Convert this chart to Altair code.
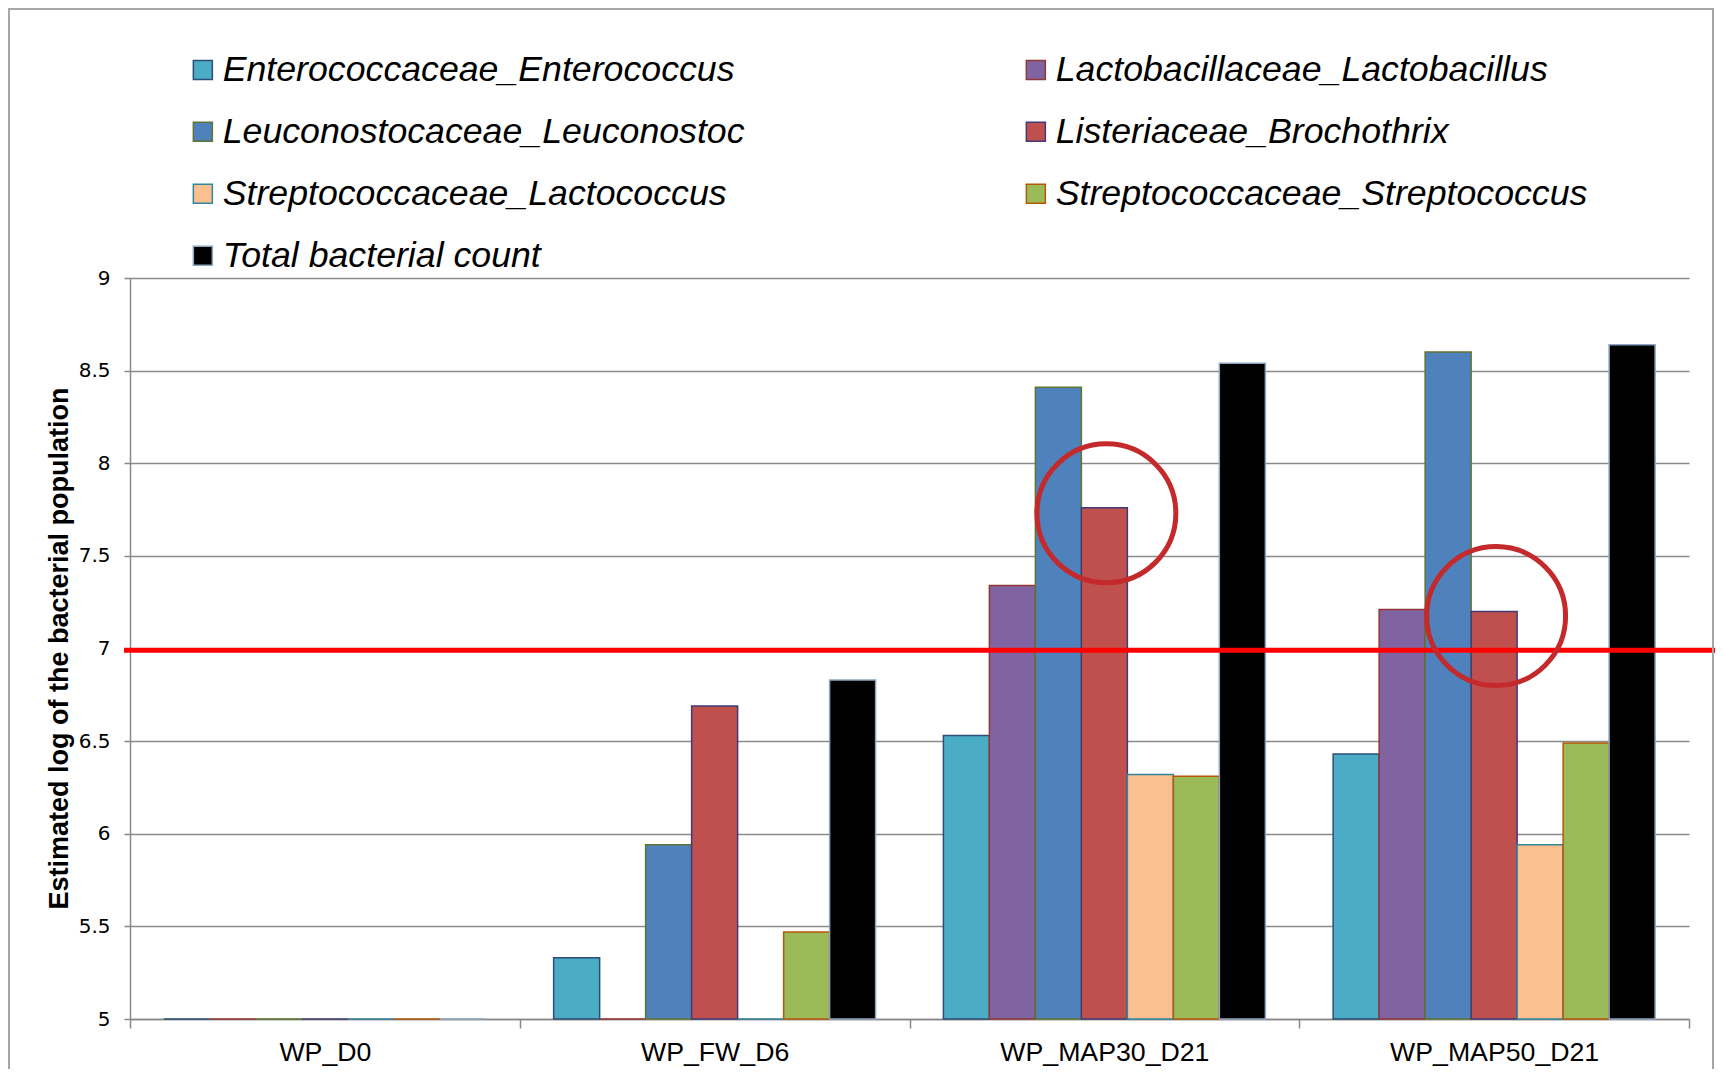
import altair as alt
import pandas as pd

groups = ["WP_D0", "WP_FW_D6", "WP_MAP30_D21", "WP_MAP50_D21"]
series = [
    "Enterococcaceae_Enterococcus",
    "Lactobacillaceae_Lactobacillus",
    "Leuconostocaceae_Leuconostoc",
    "Listeriaceae_Brochothrix",
    "Streptococcaceae_Lactococcus",
    "Streptococcaceae_Streptococcus",
    "Total bacterial count",
]
enterococcus = [5.0, 5.33, 6.53, 6.43]
lactobacillus = [5.0, 5.0, 7.34, 7.21]
leuconostoc = [5.0, 5.94, 8.41, 8.60]
brochothrix = [5.0, 6.69, 7.76, 7.20]
lactococcus = [5.0, 5.0, 6.32, 5.94]
streptococcus = [5.0, 5.47, 6.31, 6.49]
total = [5.0, 6.83, 8.54, 8.64]

fill_colors = ["#4BACC6", "#8064A2", "#4F81BD", "#C0504D", "#FAC090", "#9BBB59", "#000000"]
stroke_colors = ["#2C4D75", "#943634", "#5F7530", "#403A76", "#31859C", "#B65708", "#8EA4C0"]

# legend reading order (column by column, as in the reference)
legend_order = [0, 2, 4, 6, 1, 3, 5]

threshold = [6.99]
circle_groups = ["WP_MAP30_D21", "WP_MAP50_D21"]
circle_values = [7.73, 7.175]

all_values = [enterococcus, lactobacillus, leuconostoc, brochothrix,
              lactococcus, streptococcus, total]
rows = []
for s, vals in zip(series, all_values):
    for g, v in zip(groups, vals):
        rows.append({"group": g, "series": s, "value": v})
df = pd.DataFrame(rows)

circ = pd.DataFrame({"group": circle_groups, "value": circle_values})
thr = pd.DataFrame({"value": threshold})

leg_domain = [series[i] for i in legend_order]
leg_fill = [fill_colors[i] for i in legend_order]
leg_stroke = [stroke_colors[i] for i in legend_order]

W, H = 1559, 741
FONT = "Liberation Sans, Arial"

x_enc = alt.X(
    "group:N", sort=groups, title=None,
    scale=alt.Scale(paddingInner=0, paddingOuter=0),
    axis=alt.Axis(
        tickBand="extent", labelAngle=0, labelFontSize=26.7, labelFont=FONT,
        labelColor="#000000", tickSize=9, tickColor="#888888", tickWidth=1.5,
        domainColor="#888888", domainWidth=1.5, labelPadding=11, grid=False,
        labelLimit=500,
    ),
)
xo_enc = alt.XOffset("series:N", sort=series,
                     scale=alt.Scale(domain=series, paddingInner=0, paddingOuter=0.737))
y_scale = alt.Scale(domain=[5, 9], zero=False, nice=False)

legend = alt.Legend(
    title=None, orient="none", legendX=55, legendY=-226, columns=2,
    columnPadding=273, rowPadding=25, symbolType="square", symbolSize=361,
    symbolStrokeWidth=1.5, labelFontSize=35.7, labelFont=FONT, labelFontStyle="italic",
    labelColor="#000000", labelOffset=2, labelLimit=800, symbolOpacity=1,
)

bars = alt.Chart(df).mark_bar(strokeWidth=1.5, fillOpacity=1, strokeOpacity=1).encode(
    x=x_enc,
    xOffset=xo_enc,
    y=alt.Y(
        "value:Q", scale=y_scale,
        title="Estimated log of the bacterial population",
        axis=alt.Axis(
            values=[5, 5.5, 6, 6.5, 7, 7.5, 8, 8.5, 9], format="~g",
            labelFont="DejaVu Sans", labelFontSize=20, labelColor="#000000",
            tickSize=6, tickColor="#888888", tickWidth=1.5,
            domainColor="#888888", domainWidth=1.5, labelPadding=14,
            grid=True, gridColor="#8A8A8A", gridWidth=1.5,
            titleFont=FONT, titleFontSize=27, titleFontWeight="bold",
            titleColor="#000000", titleX=-71, titleY=370, titleAngle=270,
            titleBaseline="middle", titleAlign="center",
        ),
    ),
    y2=alt.datum(5),
    color=alt.Color("series:N",
                    scale=alt.Scale(domain=leg_domain, range=leg_fill), legend=legend),
    stroke=alt.Stroke("series:N",
                      scale=alt.Scale(domain=leg_domain, range=leg_stroke), legend=legend),
)

red_line = alt.Chart(thr).mark_rule(color="#FF0000", strokeWidth=5, clip=False).encode(
    y=alt.Y("value:Q", scale=y_scale),
    x=alt.value(-6),
    x2=alt.value(W + 40),
)

circles = alt.Chart(circ).mark_point(
    shape="circle", filled=False, size=19300, strokeWidth=5, color="#C42A2C",
    opacity=1, xOffset=2
).encode(
    x=alt.X("group:N", sort=groups),
    y=alt.Y("value:Q", scale=y_scale),
)

frame = alt.Chart(alt.Data(values=[{"a": 1}])).mark_rect(
    fill="#FFFFFF", fillOpacity=0, stroke="#A6A6A6", strokeWidth=2, clip=False
).encode(
    x=alt.value(-121), x2=alt.value(1583), y=alt.value(-269), y2=alt.value(1000)
)

chart = alt.layer(bars, red_line, circles, frame).properties(
    width=W, height=H,
    autosize=alt.AutoSizeParams(type="none"),
    padding={"left": 122, "top": 270, "right": 26, "bottom": 50},
    background="#FFFFFF",
).configure_view(stroke=None).configure_axis(labelFont=FONT)

chart.save("out.html", embed_options={"renderer": "svg", "actions": False})
